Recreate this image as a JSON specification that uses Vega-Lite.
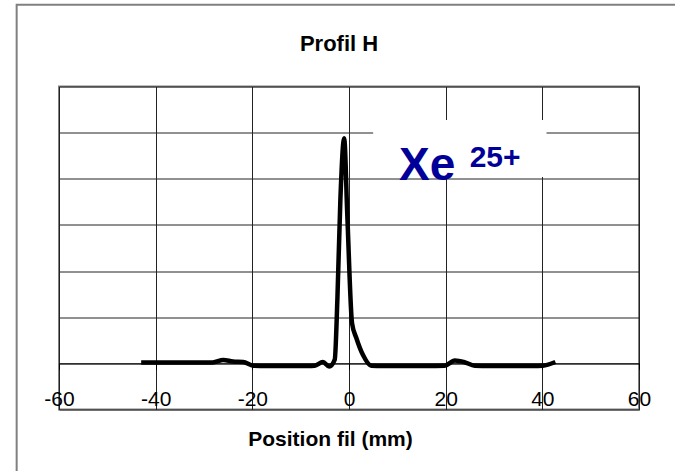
{
  "$schema": "https://vega.github.io/schema/vega-lite/v6.json",
  "width": 580,
  "height": 323,
  "autosize": "none",
  "padding": {"left": 59, "top": 86.5, "right": 36, "bottom": 61},
  "background": "white",
  "title": {
    "text": "Profil H",
    "font": "Liberation Sans",
    "fontSize": 22,
    "fontWeight": "bold",
    "color": "black",
    "anchor": "middle",
    "frame": "group",
    "baseline": "alphabetic",
    "dx": -10,
    "offset": -69.5
  },
  "config": {
    "view": {"stroke": "#808080", "strokeWidth": 2},
    "font": "Liberation Sans"
  },
  "encoding": {
    "x": {
      "field": "x", "type": "quantitative",
      "scale": {"domain": [-60, 60], "nice": false, "zero": false},
      "axis": {
        "title": "Position fil (mm)",
        "titleFont": "Liberation Sans", "titleFontSize": 21, "titleFontWeight": "bold", "titleColor": "black",
        "titleX": 271, "titleY": 82, "titleBaseline": "alphabetic", "titleAlign": "center", "titleAnchor": null,
        "values": [-60, -40, -20, 0, 20, 40, 60],
        "offset": -46.17,
        "grid": true, "gridColor": "#222", "gridWidth": 1, "gridOpacity": 1,
        "domain": true, "domainColor": "black", "domainWidth": 1,
        "ticks": true, "tickColor": "black", "tickSize": 6, "tickWidth": 1,
        "labelFont": "Liberation Sans", "labelFontSize": 21, "labelColor": "black",
        "labelBaseline": "alphabetic", "labelPadding": 36.5, "labelFlush": false, "labelOverlap": false,
        "labelExpr": "'' + datum.value"
      }
    },
    "y": {
      "field": "y", "type": "quantitative",
      "scale": {"domain": [-1, 6], "nice": false, "zero": false},
      "axis": {
        "title": null, "labels": false, "ticks": false, "domain": false,
        "values": [-1, 0, 1, 2, 3, 4, 5, 6],
        "grid": true, "gridColor": "#222", "gridWidth": 1, "gridOpacity": 1
      }
    }
  },
  "layer": [
    {
      "data": {"values": [{"x": -68.76, "xe": 80, "y": 7.769, "ye": -3}]},
      "mark": {"type": "rect", "filled": false, "color": "#808080", "strokeWidth": 2},
      "encoding": {
        "x2": {"field": "xe"},
        "y2": {"field": "ye"}
      }
    },
    {
      "data": {"values": [
        {"x": -43, "y": 0.02}, {"x": -40, "y": 0.02}, {"x": -37, "y": 0.02}, {"x": -34, "y": 0.02},
        {"x": -31, "y": 0.02}, {"x": -28.2, "y": 0.02}, {"x": -26, "y": 0.075}, {"x": -24, "y": 0.04},
        {"x": -21.9, "y": 0.03}, {"x": -19.8, "y": -0.05}, {"x": -17, "y": -0.055}, {"x": -14, "y": -0.055},
        {"x": -11, "y": -0.055}, {"x": -8.5, "y": -0.055}, {"x": -7.1, "y": -0.05}, {"x": -5.4, "y": 0.03},
        {"x": -4.1, "y": -0.07}, {"x": -2.95, "y": 0.08}, {"x": -2.4, "y": 1.4}, {"x": -1.78, "y": 3.56},
        {"x": -1.0, "y": 4.88}, {"x": -0.34, "y": 3.18}, {"x": 0.63, "y": 0.87}, {"x": 1.52, "y": 0.55},
        {"x": 2.9, "y": 0.18}, {"x": 4.6, "y": -0.05}, {"x": 7, "y": -0.055}, {"x": 10, "y": -0.055},
        {"x": 13, "y": -0.055}, {"x": 16, "y": -0.055}, {"x": 19.8, "y": -0.05}, {"x": 21.9, "y": 0.06},
        {"x": 23.9, "y": 0.025}, {"x": 26, "y": -0.05}, {"x": 29, "y": -0.055}, {"x": 32, "y": -0.055},
        {"x": 35, "y": -0.055}, {"x": 38, "y": -0.055}, {"x": 40.1, "y": -0.05}, {"x": 42.7, "y": 0.03}
      ]},
      "mark": {"type": "line", "color": "black", "strokeWidth": 4.5, "interpolate": "monotone"}
    },
    {
      "data": {"values": [{"x": 5.0, "xe": 40.86, "y": 5.274, "ye": 4.04}]},
      "mark": {"type": "rect", "color": "white", "opacity": 1},
      "encoding": {
        "x2": {"field": "xe"},
        "y2": {"field": "ye"}
      }
    },
    {
      "data": {"values": [
        {"x": 10.34, "y": 3.974, "label": "Xe", "size": 46},
        {"x": 24.96, "y": 4.262, "label": "25+", "size": 30}
      ]},
      "mark": {"type": "text", "font": "Liberation Sans", "fontWeight": "bold", "color": "#000099", "align": "left", "baseline": "alphabetic"},
      "encoding": {
        "text": {"field": "label"},
        "size": {"field": "size", "type": "quantitative", "scale": null, "legend": null}
      }
    }
  ]
}
